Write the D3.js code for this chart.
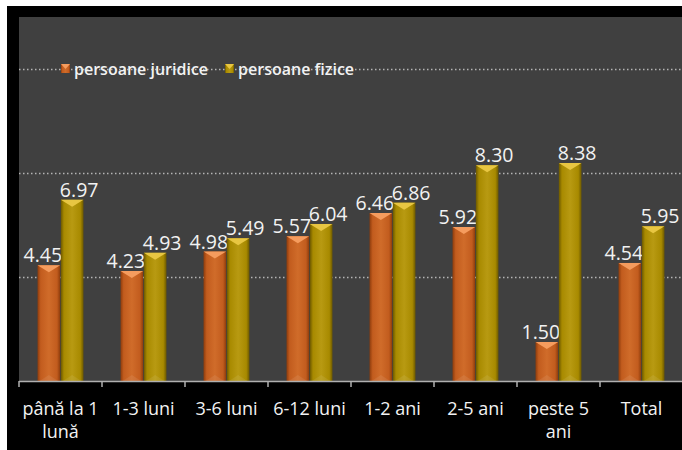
<!DOCTYPE html>
<html>
<head>
<meta charset="utf-8">
<script src="https://cdn.jsdelivr.net/npm/d3@7"></script>
<style>
  html, body { margin: 0; padding: 0; background: #fff; }
  svg { display: block; font-family: "Open Sans", "Noto Sans", sans-serif; }
</style>
</head>
<body>
<div id="chart"></div>
<script>
// -------- Data --------
const categories = ["până la 1 lună", "1-3 luni", "3-6 luni", "6-12 luni", "1-2 ani", "2-5 ani", "peste 5 ani", "Total"];
const seriesNames = ["persoane juridice", "persoane fizice"];
const juridice = [4.45, 4.23, 4.98, 5.57, 6.46, 5.92, 1.50, 4.54];
const fizice = [6.97, 4.93, 5.49, 6.04, 6.86, 8.30, 8.38, 5.95];
const gridTicks = [4, 8, 12];

// per-series look: gradient stops + lighter cap
const seriesStyle = [
  { dark: "#8e3c0c", mid: "#c25c1e", light: "#d06c2a", cap: "#f59c5e", dx: -6 },
  { dark: "#6c5800", mid: "#a88a00", light: "#b89a12", cap: "#e8c642", dx: 7 }
];

const rows = categories.map((c, i) => ({ cat: c, values: [juridice[i], fizice[i]] }));

// -------- Layout --------
const W = 682, H = 450;
const plot = { left: 19, top: 17, right: 682, bottom: 381 };

const svg = d3.select("#chart").append("svg")
  .attr("width", W)
  .attr("height", H);

const defs = svg.append("defs");
seriesStyle.forEach((s, i) => {
  const g = defs.append("linearGradient")
    .attr("id", "grad" + i)
    .attr("x1", "0%").attr("x2", "100%").attr("y1", "0%").attr("y2", "0%");
  g.append("stop").attr("offset", "0%").attr("stop-color", s.dark);
  g.append("stop").attr("offset", "14%").attr("stop-color", s.mid);
  g.append("stop").attr("offset", "50%").attr("stop-color", s.light);
  g.append("stop").attr("offset", "86%").attr("stop-color", s.mid);
  g.append("stop").attr("offset", "100%").attr("stop-color", s.dark);
});

// frame + plot area
svg.append("rect").attr("x", 7).attr("y", 6).attr("width", W - 7).attr("height", H - 6).attr("fill", "#000");
svg.append("rect")
  .attr("x", plot.left).attr("y", plot.top)
  .attr("width", plot.right - plot.left).attr("height", plot.bottom - plot.top)
  .attr("fill", "#404040");

// -------- Scales --------
const x0 = d3.scaleBand()
  .domain(categories)
  .range([plot.left, plot.left + 83 * categories.length])
  .paddingInner(0.43)
  .paddingOuter(0.215);

const x1 = d3.scaleBand()
  .domain([0, 1])
  .range([0, x0.bandwidth()])
  .padding(0.03);

const y = d3.scaleLinear()
  .domain([0, 14])
  .range([plot.bottom, plot.top]);

// gridlines (dotted)
svg.append("g")
  .selectAll("line")
  .data(gridTicks)
  .join("line")
  .attr("x1", plot.left).attr("x2", plot.right)
  .attr("y1", d => Math.round(y(d)) + 0.5)
  .attr("y2", d => Math.round(y(d)) + 0.5)
  .attr("stroke", "#b4b4b4")
  .attr("stroke-width", 1.4)
  .attr("stroke-dasharray", "1.5,2.5");

// -------- Bars --------
const groups = svg.append("g")
  .selectAll("g")
  .data(rows)
  .join("g")
  .attr("transform", d => `translate(${x0(d.cat)},0)`);

const bars = groups.selectAll("g.bar")
  .data(d => d.values.map((v, i) => ({ v, i })))
  .join("g")
  .attr("class", "bar");

bars.append("rect")
  .attr("x", d => x1(d.i))
  .attr("y", d => y(d.v))
  .attr("width", x1.bandwidth())
  .attr("height", d => y(0) - y(d.v))
  .attr("fill", d => `url(#grad${d.i})`);

// lighter roof on top of each bar
bars.append("path")
  .attr("d", d => {
    const bx = x1(d.i), bw = x1.bandwidth(), by = y(d.v);
    return `M${bx},${by}L${bx + bw},${by}L${bx + bw / 2},${by + 7}Z`;
  })
  .attr("fill", d => seriesStyle[d.i].cap);

// faint base reflection
bars.append("path")
  .attr("d", d => {
    const bx = x1(d.i), bw = x1.bandwidth(), by = y(0);
    return `M${bx + 2},${by}L${bx + bw - 2},${by}L${bx + bw / 2},${by - 6}Z`;
  })
  .attr("fill", "#fff")
  .attr("opacity", 0.08);

// value labels
bars.append("text")
  .attr("x", d => x1(d.i) + x1.bandwidth() / 2 + seriesStyle[d.i].dx)
  .attr("y", d => y(d.v) - 3)
  .attr("text-anchor", "middle")
  .attr("font-size", 19.5)
  .attr("fill", "#f2f2f2")
  .text(d => d.v.toFixed(2));

// -------- X axis --------
const axis = svg.append("g");
axis.append("line")
  .attr("x1", plot.left).attr("x2", plot.right)
  .attr("y1", plot.bottom + 0.5).attr("y2", plot.bottom + 0.5)
  .attr("stroke", "#b0b0b0")
  .attr("stroke-width", 1.5);

axis.selectAll("line.tick")
  .data(categories)
  .join("line")
  .attr("class", "tick")
  .attr("x1", d => x0(d) - x0.step() * x0.paddingInner() / 2)
  .attr("x2", d => x0(d) - x0.step() * x0.paddingInner() / 2)
  .attr("y1", plot.bottom)
  .attr("y2", plot.bottom + 6)
  .attr("stroke", "#b0b0b0")
  .attr("stroke-width", 1.5);

axis.selectAll("text")
  .data(categories)
  .join("text")
  .attr("x", d => x0(d) + x0.bandwidth() / 2)
  .attr("y", 415)
  .attr("text-anchor", "middle")
  .attr("font-size", 18)
  .attr("fill", "#f2f2f2")
  .text(d => d)
  .call(wrap, 80);

function wrap(sel, width) {
  sel.each(function () {
    const text = d3.select(this);
    const words = text.text().split(/\s+/);
    const xPos = text.attr("x");
    text.text(null);
    let line = [];
    let tspan = text.append("tspan").attr("x", xPos).attr("dy", 0);
    words.forEach(w => {
      line.push(w);
      tspan.text(line.join(" "));
      if (tspan.node().getComputedTextLength() > width && line.length > 1) {
        line.pop();
        tspan.text(line.join(" "));
        line = [w];
        tspan = text.append("tspan").attr("x", xPos).attr("dy", 23).text(w);
      }
    });
  });
}

// -------- Legend --------
const legend = svg.append("g").attr("transform", `translate(61,${Math.round(y(12))})`);
let lx = 0;
seriesNames.forEach((name, i) => {
  const item = legend.append("g").attr("transform", `translate(${lx},0)`);
  item.append("rect")
    .attr("x", 0).attr("y", -5)
    .attr("width", 9).attr("height", 9)
    .attr("fill", `url(#grad${i})`);
  item.append("path")
    .attr("d", "M0,-5L9,-5L4.5,0Z")
    .attr("fill", seriesStyle[i].cap);
  const t = item.append("text")
    .attr("x", 13)
    .attr("y", 5.5)
    .attr("font-size", 16)
    .attr("font-weight", 600)
    .attr("fill", "#f2f2f2")
    .text(name);
  lx += 13 + t.node().getComputedTextLength() + 17;
});
</script>
</body>
</html>
